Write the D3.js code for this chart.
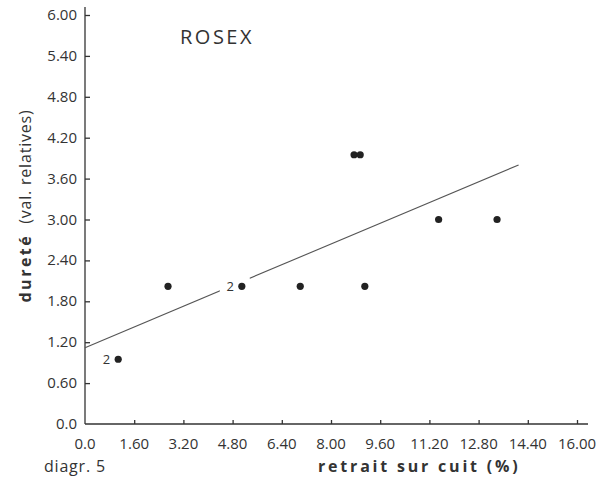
<!DOCTYPE html>
<html>
<head>
<meta charset="utf-8">
<script src="https://cdn.jsdelivr.net/npm/d3@7"></script>
<style>
  body { margin: 0; background: #fff; }
  text { font-family: "Open Sans", sans-serif; fill: #333; }
</style>
</head>
<body>
<div id="chart"></div>
<script>
// data
const retrait = [1.08, 2.7, 5.1, 7.0, 8.75, 8.95, 9.1, 11.5, 13.4];
const durete = [0.95, 2.02, 2.02, 2.02, 3.95, 3.95, 2.02, 3.0, 3.0];
const counts = [2, 1, 2, 1, 1, 1, 1, 1, 1];
const fitX = [0, 14.1];
const fitY = [1.12, 3.8];
const xTicks = [0, 1.6, 3.2, 4.8, 6.4, 8.0, 9.6, 11.2, 12.8, 14.4, 16.0];
const yTicks = [0, 0.6, 1.2, 1.8, 2.4, 3.0, 3.6, 4.2, 4.8, 5.4, 6.0];

const width = 598, height = 480;
const ink = "#333";

const svg = d3.select("#chart").append("svg")
  .attr("width", width)
  .attr("height", height);

const x = d3.scaleLinear().domain([0, 16]).range([85, 577]);
const y = d3.scaleLinear().domain([0, 6]).range([424, 15]);

// axes, ticks pointing inward
const xAxis = svg.append("g")
  .attr("transform", `translate(0,${y(0)})`)
  .call(d3.axisTop(x).tickValues(xTicks.slice(1)).tickSize(4).tickFormat(""));
xAxis.select(".domain").attr("d", `M${x(0)},0H${x(0) + 503}`);

const yAxis = svg.append("g")
  .attr("transform", `translate(${x(0)},0)`)
  .call(d3.axisRight(y).tickValues(yTicks.slice(1)).tickSize(5).tickFormat(""));
yAxis.select(".domain").attr("d", `M0,${y(0)}V7`);

svg.selectAll(".domain, .tick line")
  .attr("stroke", ink)
  .attr("stroke-width", 1.3);

// tick labels
svg.append("g").selectAll("text")
  .data(xTicks)
  .join("text")
  .attr("x", (d) => x(d))
  .attr("y", 449)
  .attr("text-anchor", "middle")
  .attr("font-size", 15)
  .text((d) => d === 0 ? "0.0" : d3.format(".2f")(d));

svg.append("g").selectAll("text")
  .data(yTicks)
  .join("text")
  .attr("x", 77)
  .attr("y", (d) => y(d) + 5)
  .attr("text-anchor", "end")
  .attr("font-size", 15)
  .text((d) => d === 0 ? "0.0" : d3.format(".2f")(d));

// regression line
svg.append("line")
  .attr("x1", x(fitX[0])).attr("y1", y(fitY[0]))
  .attr("x2", x(fitX[1])).attr("y2", y(fitY[1]))
  .attr("stroke", "#555")
  .attr("stroke-width", 1.1);

// blank the line behind the "2" label near 4.80
svg.append("rect")
  .attr("x", x(5.1) - 22)
  .attr("y", y(2.02) - 9)
  .attr("width", 30)
  .attr("height", 18)
  .attr("fill", "#fff");

// points
svg.append("g").selectAll("circle")
  .data(retrait)
  .join("circle")
  .attr("cx", (d) => x(d))
  .attr("cy", (d, i) => y(durete[i]))
  .attr("r", 3.6)
  .attr("fill", "#222");

svg.append("g").selectAll("text")
  .data(retrait.filter((d, i) => counts[i] > 1))
  .join("text")
  .attr("x", (d) => x(d) - 8)
  .attr("y", (d) => y(durete[retrait.indexOf(d)]) + 5)
  .attr("text-anchor", "end")
  .attr("font-size", 13)
  .text((d) => counts[retrait.indexOf(d)]);

// title
svg.append("text")
  .attr("x", 180)
  .attr("y", 44)
  .attr("font-size", 20)
  .attr("letter-spacing", 2.5)
  .text("ROSEX");

// axis titles
const yl = svg.append("text")
  .attr("transform", "translate(31,206) rotate(-90)")
  .attr("text-anchor", "middle")
  .attr("font-size", 16)
  .attr("xml:space", "preserve");
yl.append("tspan").attr("font-weight", "bold").attr("letter-spacing", 2.5).text("dureté");
yl.append("tspan").attr("letter-spacing", 0.8).text("  (val. relatives)");

svg.append("text")
  .attr("x", 44)
  .attr("y", 472)
  .attr("font-size", 16)
  .attr("letter-spacing", 0.8)
  .text("diagr. 5");

svg.append("text")
  .attr("x", 318)
  .attr("y", 472)
  .attr("font-size", 16)
  .attr("font-weight", "bold")
  .attr("letter-spacing", 2.8)
  .attr("xml:space", "preserve")
  .text("retrait sur cuit (%)");
</script>
</body>
</html>
